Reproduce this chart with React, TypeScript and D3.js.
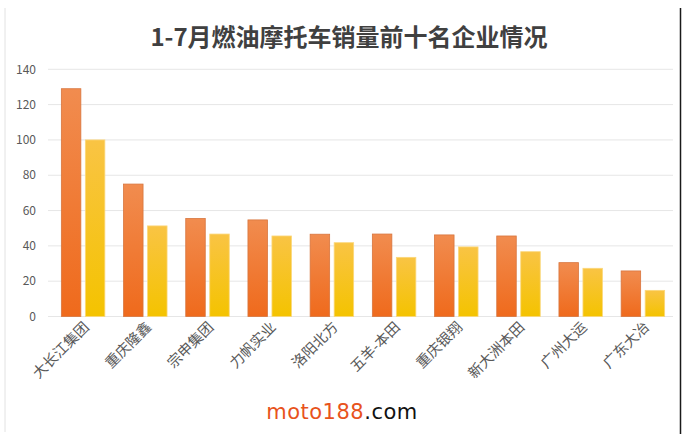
import React from 'react'
import * as d3 from 'd3'

const W = 686
const H = 434

const companies = ['大长江集团', '重庆隆鑫', '宗申集团', '力帆实业', '洛阳北方', '五羊-本田', '重庆银翔', '新大洲本田', '广州大运', '广东大冶']
const seriesA = [129, 75, 55.5, 54.7, 46.6, 46.7, 46.2, 45.6, 30.5, 25.8]
const seriesB = [100, 51.3, 46.7, 45.6, 41.8, 33.5, 39.4, 36.7, 27.3, 14.8]
const yTicks = [0, 20, 40, 60, 80, 100, 120, 140]

const title = '1-7月燃油摩托车销量前十名企业情况'

export default function App() {
  const x = d3.scaleBand<string>().domain(companies).range([52, 674])
  const y = d3.scaleLinear().domain([0, 140]).range([316.5, 69.3])
  const barW = 19.5
  const gap = 4.5

  return (
    <svg width={W} height={H} style={{ display: 'block', position: 'absolute', left: 0, top: 0 }}
      fontFamily="'Noto Sans CJK SC', 'Noto Sans', sans-serif">
      <defs>
        <linearGradient id="gA" x1="0" y1="0" x2="0" y2="1">
          <stop offset="0" stopColor="#f18c4f" />
          <stop offset="1" stopColor="#ef6a1c" />
        </linearGradient>
        <linearGradient id="gB" x1="0" y1="0" x2="0" y2="1">
          <stop offset="0" stopColor="#f9c444" />
          <stop offset="1" stopColor="#f4c300" />
        </linearGradient>
      </defs>
      <rect width={W} height={H} fill="#fff" />
      <line x1={5} x2={5} y1={8} y2={432} stroke="#e2e2e2" strokeWidth={1} />
      <line x1={680.5} x2={680.5} y1={8} y2={434} stroke="#1a1a1a" strokeWidth={1.5} />

      <text x={349} y={46} textAnchor="middle" fontSize={24} fontWeight="bold" fill="#404040">{title}</text>

      {yTicks.map(t => (
        <g key={t}>
          <line x1={48} x2={673} y1={y(t)} y2={y(t)} stroke="#e6e6e6" strokeWidth={1} />
          <text x={36} y={y(t)} dy="0.35em" textAnchor="end" fontSize={12} fill="#595959">{t}</text>
        </g>
      ))}

      {companies.map((c, i) => {
        const cx = x(c)! + x.bandwidth() / 2
        return (
          <g key={c}>
            <rect x={cx - gap / 2 - barW} y={y(seriesA[i])} width={barW} height={y(0) - y(seriesA[i])}
              fill="url(#gA)" stroke="#d8753e" strokeWidth={0.8} />
            <rect x={cx + gap / 2} y={y(seriesB[i])} width={barW} height={y(0) - y(seriesB[i])}
              fill="url(#gB)" stroke="#fbd77a" strokeWidth={0.8} />
            <text transform={`translate(${cx + 7},${328}) rotate(-45)`} textAnchor="end" fontSize={14.5} fill="#595959">{c}</text>
          </g>
        )
      })}

      <text x={342} y={419} textAnchor="middle" fontSize={21}
        fontFamily="'DejaVu Sans', sans-serif" letterSpacing={0.5}>
        <tspan fill="#e8531c">moto188</tspan><tspan fill="#111">.com</tspan>
      </text>
    </svg>
  )
}
